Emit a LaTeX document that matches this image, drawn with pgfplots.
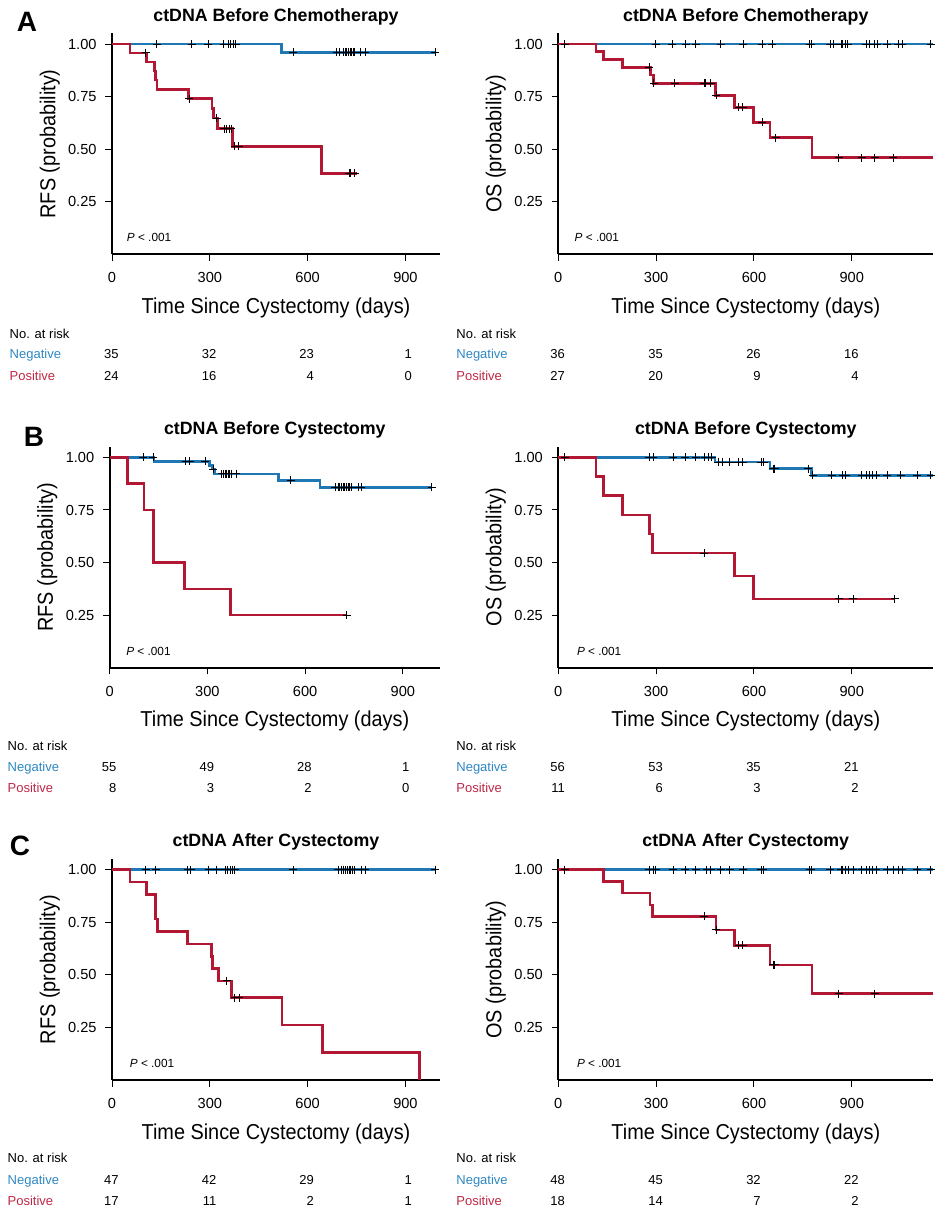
\documentclass[border=0pt]{standalone}
\usepackage{pgfplots}
\pgfplotsset{compat=1.18}
\usepackage{fontspec}
\setmainfont{Liberation Sans}
\newfontfamily\condfont[FakeStretch=0.92]{Liberation Sans}
\definecolor{negc}{RGB}{31,120,180}
\definecolor{posc}{RGB}{178,24,52}
\definecolor{negt}{RGB}{45,135,195}
\definecolor{post}{RGB}{190,40,70}

\pgfplotsset{
 km/.style={
   scale only axis, height=110.4pt,
   xmin=0, ymin=0, ymax=1.05,
   axis lines=left, axis line style={-, line width=0.9pt, black},
   xtick={0,300,600,900}, ytick={0.25,0.5,0.75,1},
   tick align=outside, major tick length=3.35pt,
   tick style={black, line width=0.5pt},
   tick label style={font=\fontsize{7.3}{8}\selectfont, inner sep=0pt},
   xticklabel shift=5.6pt, yticklabel shift=4.2pt,
   yticklabel style={/pgf/number format/.cd, fixed, fixed zerofill, precision=2, assume math mode=true},
   xticklabel style={/pgf/number format/assume math mode=true},
   clip=false,
   xlabel={Time Since Cystectomy (days)},
   label style={font=\condfont\fontsize{10.8}{12}\selectfont},
   xlabel style={at={(axis description cs:0.5,-0.243)}, anchor=center},
 },
 kmL/.style={km, width=164pt, xmax=1006, ylabel style={at={(axis description cs:-0.19,0.5)}, anchor=center}},
 kmR/.style={km, width=187.5pt, xmax=1150, ylabel style={at={(axis description cs:-0.1667,0.5)}, anchor=center}},
 neg/.style={const plot, color=negc, line width=1.3pt, mark=none},
 pos/.style={const plot, color=posc, line width=1.3pt, mark=none},
 cens/.style={only marks, mark=+, mark size=2pt, black, mark options={line width=0.5pt}},
}
\newcommand{\pval}[1]{\node[anchor=west, font=\fontsize{5.9}{7}\selectfont] at (axis description cs:#1,0.075) {\textit{P} < .001};}
\newcommand{\ttl}[1]{\node[anchor=center, font=\bfseries\fontsize{8.9}{10}\selectfont] at (axis description cs:0.5,1.077) {#1};}
\newcommand{\rlab}{\fontsize{6.5}{7}\selectfont}

\begin{document}
\begin{tikzpicture}
\useasboundingbox (0,0) rectangle (470.5pt,-609.5pt);

% ---------- A left ----------
\begin{axis}[kmL, at={(56pt,-127.15pt)}, anchor=south west, ylabel={RFS (probability)}]
\addplot[neg] coordinates {(0,1) (520,0.96) (991,0.96)};
\addplot[pos] coordinates {(0,1) (55,0.958) (106,0.915) (130,0.871) (134,0.828) (138,0.784) (234,0.740) (307,0.694) (311,0.648) (324,0.598) (369,0.513) (643,0.385) (750,0.385)};
\addplot[cens] coordinates {(137,1) (244,1) (295,1) (343,1) (357,1) (364,1) (372,1) (380,1)
 (556,0.96) (689,0.96) (699,0.96) (710,0.96) (715,0.96) (720,0.96) (725,0.96) (730,0.96) (735,0.96) (740,0.96) (745,0.96) (761,0.96) (776,0.96) (991,0.96)};
\addplot[cens] coordinates {(103,0.958) (237,0.740) (321,0.648) (345,0.598) (352,0.598) (359,0.598) (366,0.598) (377,0.513) (389,0.513) (727,0.385) (732,0.385) (745,0.385)};
\pval{0.024}
\ttl{ctDNA Before Chemotherapy}
\end{axis}

% ---------- A right ----------
\begin{axis}[kmR, at={(279.15pt,-127.15pt)}, anchor=south west, ylabel={OS (probability)}]
\addplot[neg] coordinates {(0,1) (1150,1)};
\addplot[pos] coordinates {(0,1) (115,0.963) (138,0.926) (197,0.889) (283,0.852) (291,0.813) (482,0.756) (541,0.699) (598,0.627) (649,0.554) (778,0.46) (1150,0.46)};
\addplot[cens] coordinates {(20,1) (299,1) (349,1) (391,1) (421,1) (498,1) (567,1) (625,1) (656,1) (771,1) (776,1) (834,1) (843,1) (868,1) (873,1) (882,1) (887,1) (945,1) (955,1) (970,1) (978,1) (1009,1) (1042,1) (1055,1) (1142,1)};
\addplot[cens] coordinates {(279,0.889) (293,0.813) (357,0.813) (447,0.813) (452,0.813) (468,0.813) (484,0.756) (554,0.699) (565,0.699) (626,0.627) (667,0.554) (860,0.46) (930,0.46) (970,0.46) (1027,0.46)};
\pval{0.025}
\ttl{ctDNA Before Chemotherapy}
\end{axis}

% ---------- B left ----------
\begin{axis}[km, width=165.15pt, xmax=1014, ylabel style={at={(axis description cs:-0.189,0.5)}, anchor=center},
  at={(54.85pt,-333.85pt)}, anchor=south west, ylabel={RFS (probability)}]
\addplot[neg] coordinates {(0,1) (136,0.982) (306,0.962) (315,0.944) (322,0.922) (518,0.891) (646,0.858) (989,0.858)};
\addplot[pos] coordinates {(0,1) (55,0.875) (105,0.75) (134,0.5) (229,0.375) (370,0.25) (728,0.25)};
\addplot[cens] coordinates {(103,1) (134,1) (233,0.982) (245,0.982) (293,0.982) (318,0.944)
 (344,0.922) (349,0.922) (354,0.922) (359,0.922) (364,0.922) (369,0.922) (374,0.922) (389,0.922) (556,0.891)
 (692,0.858) (702,0.858) (707,0.858) (712,0.858) (717,0.858) (722,0.858) (727,0.858) (732,0.858) (737,0.858) (742,0.858) (763,0.858) (773,0.858) (989,0.858)};
\addplot[cens] coordinates {(728,0.25)};
\pval{0.029}
\ttl{ctDNA Before Cystectomy}
\end{axis}

% ---------- B right ----------
\begin{axis}[kmR, at={(279.15pt,-333.85pt)}, anchor=south west, ylabel={OS (probability)}]
\addplot[neg] coordinates {(0,1) (480,0.978) (649,0.946) (776,0.915) (1150,0.915)};
\addplot[pos] coordinates {(0,1) (115,0.909) (138,0.818) (197,0.727) (279,0.636) (288,0.545) (541,0.436) (598,0.327) (1032,0.327)};
\addplot[cens] coordinates {(20,1) (279,1) (291,1) (352,1) (390,1) (421,1) (449,1) (460,1) (470,1)
 (490,0.978) (504,0.978) (526,0.978) (552,0.978) (565,0.978) (623,0.978) (630,0.978)
 (659,0.946) (664,0.946) (766,0.946)
 (781,0.915) (838,0.915) (873,0.915) (882,0.915) (930,0.915) (945,0.915) (955,0.915) (963,0.915) (975,0.915) (1009,0.915) (1050,0.915) (1100,0.915) (1142,0.915)};
\addplot[cens] coordinates {(447,0.545) (860,0.327) (904,0.327) (1032,0.327)};
\pval{0.031}
\ttl{ctDNA Before Cystectomy}
\end{axis}

% ---------- C left ----------
\begin{axis}[kmL, at={(56pt,-540pt)}, anchor=south west, ylabel={RFS (probability)}]
\addplot[neg] coordinates {(0,1) (991,1)};
\addplot[pos] coordinates {(0,1) (55,0.941) (106,0.882) (133,0.765) (139,0.706) (232,0.647) (306,0.588) (309,0.529) (326,0.471) (367,0.392) (522,0.261) (645,0.131) (943,0)};
\addplot[cens] coordinates {(103,1) (134,1) (232,1) (241,1) (296,1) (321,1) (347,1) (354,1) (362,1) (369,1) (377,1) (556,1) (694,1) (704,1) (711,1) (717,1) (722,1) (727,1) (733,1) (738,1) (743,1) (764,1) (776,1) (991,1)};
\addplot[cens] coordinates {(352,0.471) (377,0.392) (390,0.392)};
\pval{0.033}
\ttl{ctDNA After Cystectomy}
\end{axis}

% ---------- C right ----------
\begin{axis}[kmR, at={(279.15pt,-540pt)}, anchor=south west, ylabel={OS (probability)}]
\addplot[neg] coordinates {(0,1) (1150,1)};
\addplot[pos] coordinates {(0,1) (138,0.944) (197,0.889) (281,0.833) (288,0.778) (483,0.714) (541,0.641) (649,0.547) (778,0.411) (1150,0.411)};
\addplot[cens] coordinates {(20,1) (279,1) (291,1) (299,1) (352,1) (390,1) (421,1) (455,1) (467,1) (498,1) (526,1) (567,1) (623,1) (628,1) (771,1) (776,1) (834,1) (868,1) (873,1) (882,1) (889,1) (904,1) (930,1) (945,1) (955,1) (965,1) (975,1) (1009,1) (1027,1) (1042,1) (1055,1) (1100,1) (1142,1)};
\addplot[cens] coordinates {(447,0.778) (485,0.714) (554,0.641) (565,0.641) (659,0.547) (664,0.547) (860,0.411) (970,0.411)};
\pval{0.031}
\ttl{ctDNA After Cystectomy}
\end{axis}

% ---------- panel letters ----------
\node[font=\bfseries\fontsize{14}{16}\selectfont] at (13.5pt,-10.85pt) {A};
\node[font=\bfseries\fontsize{14}{16}\selectfont] at (17pt,-218.25pt) {B};
\node[font=\bfseries\fontsize{14}{16}\selectfont] at (10pt,-423pt) {C};

% ---------- risk tables ----------
\begin{scope}[every node/.style={font=\rlab, inner sep=0pt}]
% A
\node[anchor=base west] at (4.65pt,-169.15pt) {No. at risk};
\node[anchor=base west, text=negt] at (4.65pt,-179.15pt) {Negative};
\node[anchor=base west, text=post] at (4.65pt,-190pt) {Positive};
\node[anchor=base east] at (59.5pt,-179.15pt) {35};
\node[anchor=base east] at (108.35pt,-179.15pt) {32};
\node[anchor=base east] at (157.15pt,-179.15pt) {23};
\node[anchor=base east] at (206.15pt,-179.15pt) {1};
\node[anchor=base east] at (59.5pt,-190pt) {24};
\node[anchor=base east] at (108.35pt,-190pt) {16};
\node[anchor=base east] at (157.15pt,-190pt) {4};
\node[anchor=base east] at (206.15pt,-190pt) {0};
\node[anchor=base west] at (228pt,-169.15pt) {No. at risk};
\node[anchor=base west, text=negt] at (228pt,-179.15pt) {Negative};
\node[anchor=base west, text=post] at (228pt,-190pt) {Positive};
\node[anchor=base east] at (282.65pt,-179.15pt) {36};
\node[anchor=base east] at (331.6pt,-179.15pt) {35};
\node[anchor=base east] at (380.55pt,-179.15pt) {26};
\node[anchor=base east] at (429.5pt,-179.15pt) {16};
\node[anchor=base east] at (282.65pt,-190pt) {27};
\node[anchor=base east] at (331.6pt,-190pt) {20};
\node[anchor=base east] at (380.55pt,-190pt) {9};
\node[anchor=base east] at (429.5pt,-190pt) {4};
% B
\node[anchor=base west] at (3.65pt,-375pt) {No. at risk};
\node[anchor=base west, text=negt] at (3.65pt,-385.85pt) {Negative};
\node[anchor=base west, text=post] at (3.65pt,-396.15pt) {Positive};
\node[anchor=base east] at (58.35pt,-385.85pt) {55};
\node[anchor=base east] at (107.2pt,-385.85pt) {49};
\node[anchor=base east] at (156pt,-385.85pt) {28};
\node[anchor=base east] at (204.85pt,-385.85pt) {1};
\node[anchor=base east] at (58.35pt,-396.15pt) {8};
\node[anchor=base east] at (107.2pt,-396.15pt) {3};
\node[anchor=base east] at (156pt,-396.15pt) {2};
\node[anchor=base east] at (204.85pt,-396.15pt) {0};
\node[anchor=base west] at (228pt,-375pt) {No. at risk};
\node[anchor=base west, text=negt] at (228pt,-385.85pt) {Negative};
\node[anchor=base west, text=post] at (228pt,-396.15pt) {Positive};
\node[anchor=base east] at (282.65pt,-385.85pt) {56};
\node[anchor=base east] at (331.6pt,-385.85pt) {53};
\node[anchor=base east] at (380.55pt,-385.85pt) {35};
\node[anchor=base east] at (429.5pt,-385.85pt) {21};
\node[anchor=base east] at (282.65pt,-396.15pt) {11};
\node[anchor=base east] at (331.6pt,-396.15pt) {6};
\node[anchor=base east] at (380.55pt,-396.15pt) {3};
\node[anchor=base east] at (429.5pt,-396.15pt) {2};
% C
\node[anchor=base west] at (3.65pt,-581.15pt) {No. at risk};
\node[anchor=base west, text=negt] at (3.65pt,-592.15pt) {Negative};
\node[anchor=base west, text=post] at (3.65pt,-602.5pt) {Positive};
\node[anchor=base east] at (59.5pt,-592.15pt) {47};
\node[anchor=base east] at (108.35pt,-592.15pt) {42};
\node[anchor=base east] at (157.15pt,-592.15pt) {29};
\node[anchor=base east] at (206.15pt,-592.15pt) {1};
\node[anchor=base east] at (59.5pt,-602.5pt) {17};
\node[anchor=base east] at (108.35pt,-602.5pt) {11};
\node[anchor=base east] at (157.15pt,-602.5pt) {2};
\node[anchor=base east] at (206.15pt,-602.5pt) {1};
\node[anchor=base west] at (228pt,-581.15pt) {No. at risk};
\node[anchor=base west, text=negt] at (228pt,-592.15pt) {Negative};
\node[anchor=base west, text=post] at (228pt,-602.5pt) {Positive};
\node[anchor=base east] at (282.65pt,-592.15pt) {48};
\node[anchor=base east] at (331.6pt,-592.15pt) {45};
\node[anchor=base east] at (380.55pt,-592.15pt) {32};
\node[anchor=base east] at (429.5pt,-592.15pt) {22};
\node[anchor=base east] at (282.65pt,-602.5pt) {18};
\node[anchor=base east] at (331.6pt,-602.5pt) {14};
\node[anchor=base east] at (380.55pt,-602.5pt) {7};
\node[anchor=base east] at (429.5pt,-602.5pt) {2};
\end{scope}
\end{tikzpicture}
\end{document}
